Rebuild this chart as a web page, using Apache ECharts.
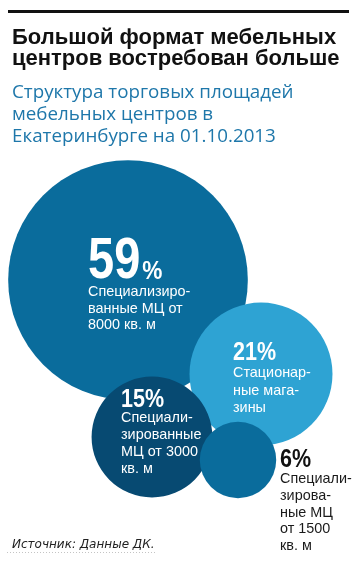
<!DOCTYPE html>
<html>
<head>
<meta charset="utf-8">
<script src="https://cdn.jsdelivr.net/npm/echarts@6/dist/echarts.min.js"></script>
<style>
html,body{margin:0;padding:0;background:#fff;}
#chart{width:358px;height:566px;}
</style>
</head>
<body>
<div id="chart"></div>
<script>
// ---- data ----
var categories = [
  'Специализиро-\nванные МЦ от\n8000 кв. м',
  'Стационар-\nные мага-\nзины',
  'Специали-\nзированные\nМЦ от 3000\nкв. м',
  'Специали-\nзирова-\nные МЦ\nот 1500\nкв. м'
];
var shares = [59, 21, 15, 6];

// ---- layout (not data) ----
var centers = [[128, 280], [261, 374], [152, 437], [238, 460]];
var colors = ['#0a6c9c', '#2ea3d3', '#074a72', '#0a6c9c'];
// [dx, number cap-top dy, description cap-top dy, number font, description line height]
var labelLayout = [
  [-40, -42, 6, 58, 16.3],
  [-28, -31, -7, 25, 17.5],
  [-31, -47, -25, 25, 17],
  [42, -10, 13, 25, 16.7]
];
var K = 15.6;

var SANS = '"Liberation Sans", Arial, sans-serif';

function capTopY(capTop, F, L) {
  return capTop - (L / 2 - 0.406 * F);
}

var chart = echarts.init(document.getElementById('chart'));

chart.setOption({
  animation: false,
  backgroundColor: '#ffffff',
  title: [
    {
      text: 'Большой формат мебельных\nцентров востребован больше',
      left: 7, top: 23,
      textStyle: { fontFamily: SANS, fontWeight: 'bold', fontSize: 22, lineHeight: 20.7, color: '#111' }
    },
    {
      text: 'Структура торговых площадей\nмебельных центров в\nЕкатеринбурге на 01.10.2013',
      left: 7, top: 77,
      textStyle: { fontFamily: '"Open Sans", sans-serif', fontWeight: 'normal', fontSize: 18.8, lineHeight: 22, color: '#1e77aa' }
    },
    {
      text: 'Источник: Данные ДК.',
      left: 7, top: 534,
      textStyle: { fontFamily: '"DejaVu Sans", sans-serif', fontStyle: 'italic', fontWeight: 'normal', fontSize: 12, color: '#222' }
    }
  ],
  graphic: [
    { type: 'rect', shape: { x: 8, y: 10, width: 341, height: 3 }, style: { fill: '#111' } },
    { type: 'line', shape: { x1: 7, y1: 552.5, x2: 155, y2: 552.5 }, style: { stroke: '#c4c4c4', lineWidth: 1, lineDash: [1, 2] } }
  ],
  grid: { left: 0, right: 0, top: 0, bottom: 0 },
  xAxis: { type: 'value', min: 0, max: 358, show: false },
  yAxis: { type: 'value', min: 0, max: 566, inverse: true, show: false },
  series: [{
    type: 'custom',
    coordinateSystem: 'cartesian2d',
    data: shares.map(function (v, i) { return [centers[i][0], centers[i][1], v, i]; }),
    renderItem: function (params, api) {
      var i = api.value(3);
      var v = api.value(2);
      var c = api.coord([api.value(0), api.value(1)]);
      var r = K * Math.sqrt(v);
      var lay = labelLayout[i];
      var outside = i === 3;
      var fg = outside ? '#111' : '#fff';
      var tx = c[0] + lay[0];
      var numTop = c[1] + lay[1];
      var F = lay[3];
      var children = [
        { type: 'circle', shape: { cx: c[0], cy: c[1], r: r }, style: { fill: colors[i] }, z2: i }
      ];
      if (i === 0) {
        var numW = 2 * 0.556 * F * 0.81;
        var baseY = capTopY(numTop, F, F) + 0.81 * F;
        children.push({ type: 'text', x: tx, y: capTopY(numTop, F, F), scaleX: 0.81, z2: 50,
          style: { text: String(v), font: 'bold ' + F + 'px ' + SANS, fill: fg, verticalAlign: 'top' } });
        children.push({ type: 'text', x: tx + numW + 2, y: baseY - 0.81 * 26, scaleX: 0.87, z2: 50,
          style: { text: '%', font: 'bold 26px ' + SANS, fill: fg, verticalAlign: 'top' } });
      } else {
        children.push({ type: 'text', x: tx, y: capTopY(numTop, F, F), scaleX: 0.86, z2: 50,
          style: { text: v + '%', font: 'bold ' + F + 'px ' + SANS, fill: fg, verticalAlign: 'top' } });
      }
      var L = lay[4];
      children.push({ type: 'text', x: tx, y: capTopY(c[1] + lay[2], 15, L), scaleX: 0.96, z2: 50,
        style: { text: categories[i], font: '15px ' + SANS, lineHeight: L, fill: outside ? '#1a1a1a' : '#fff', verticalAlign: 'top' } });
      return { type: 'group', children: children };
    }
  }]
});
</script>
</body>
</html>
